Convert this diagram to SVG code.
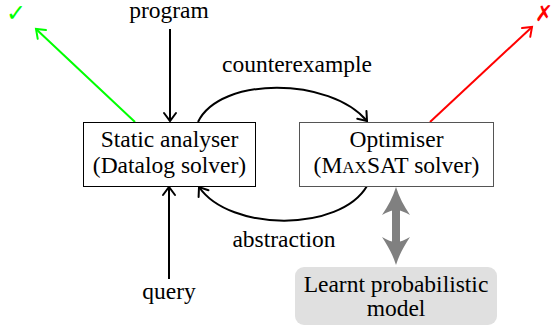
<svg xmlns="http://www.w3.org/2000/svg" width="553" height="327" viewBox="0 0 553 327" font-family="'Liberation Serif', 'DejaVu Serif', serif">
<style>
.t{font-family:'Liberation Serif','DejaVu Serif',serif;font-size:23.5px;fill:#000;text-anchor:middle}
.box{fill:#fff;stroke:#000;stroke-width:1}
.ln{fill:none;stroke:#000;stroke-width:2}
</style>
<defs>
<marker id="ahk" markerUnits="userSpaceOnUse" markerWidth="16" markerHeight="16" refX="0" refY="0" viewBox="-12 -8 16 16" orient="auto" overflow="visible">
<path d="M-8,-6 Q-2,-1.5 0,0 Q-2,1.5 -8,6" fill="none" stroke="#000" stroke-width="2" stroke-linecap="round"/>
</marker>
<marker id="ahg" markerUnits="userSpaceOnUse" markerWidth="16" markerHeight="16" refX="0" refY="0" viewBox="-12 -8 16 16" orient="auto" overflow="visible">
<path d="M-8,-6 Q-2,-1.5 0,0 Q-2,1.5 -8,6" fill="none" stroke="#00ff00" stroke-width="2" stroke-linecap="round"/>
</marker>
<marker id="ahr" markerUnits="userSpaceOnUse" markerWidth="16" markerHeight="16" refX="0" refY="0" viewBox="-12 -8 16 16" orient="auto" overflow="visible">
<path d="M-8,-6 Q-2,-1.5 0,0 Q-2,1.5 -8,6" fill="none" stroke="#ff0000" stroke-width="2" stroke-linecap="round"/>
</marker>
</defs>

<g id="connectors">
<line class="ln" x1="170" y1="29" x2="170" y2="121" marker-end="url(#ahk)"/>
<line class="ln" x1="169" y1="279" x2="169" y2="187" marker-end="url(#ahk)"/>
<path class="ln" d="M198,122 C220,76 330,77 367,121" marker-end="url(#ahk)"/>
<path class="ln" d="M367,186 C340,232 230,232 199,187" marker-end="url(#ahk)"/>
<line x1="135" y1="122" x2="36" y2="29" stroke="#00ff00" stroke-width="2" marker-end="url(#ahg)"/>
<line x1="430" y1="122" x2="532" y2="27" stroke="#ff0000" stroke-width="2" marker-end="url(#ahr)"/>
<g id="model-link" fill="#808080">
<rect x="392" y="205" width="8" height="42"/>
<path d="M396,187 C399,197 404,206 410,215 C405,212 400,210 396,210 C392,210 387,212 382,215 C388,206 393,197 396,187 Z"/>
<path d="M396,265 C399,255 404,246 410,237 C405,240 400,242 396,242 C392,242 387,240 382,237 C388,246 393,255 396,265 Z"/>
</g>
<text class="t" x="297" y="72">counterexample</text>
<text class="t" x="284" y="247">abstraction</text>
</g>

<g id="program"><text class="t" x="169" y="18">program</text></g>
<g id="query"><text class="t" x="169" y="299">query</text></g>

<g id="check"><text x="16" y="21" font-family="'DejaVu Sans', sans-serif" font-size="24" font-weight="bold" fill="#00ff00" text-anchor="middle">✓</text></g>
<g id="cross"><text x="544" y="21" font-family="'DejaVu Sans', sans-serif" font-size="22" font-weight="bold" fill="#ff0000" text-anchor="middle">✗</text></g>

<g id="static-analyser">
<rect class="box" x="83.5" y="122.5" width="172" height="64"/>
<text class="t" x="169.5" y="147">Static analyser</text>
<text class="t" x="169.5" y="173">(Datalog solver)</text>
</g>

<g id="optimiser">
<rect x="299.5" y="122.5" width="194" height="64" fill="#fff" stroke="#555" stroke-width="1"/>
<text class="t" x="396.5" y="147">Optimiser</text>
<text class="t" x="396.5" y="173">(M<tspan font-size="17">AX</tspan>SAT solver)</text>
</g>

<g id="learnt-model">
<rect x="295" y="267" width="202" height="58" rx="9" ry="9" fill="#e0e0e0"/>
<text class="t" x="396" y="292">Learnt probabilistic</text>
<text class="t" x="396" y="316">model</text>
</g>
</svg>
